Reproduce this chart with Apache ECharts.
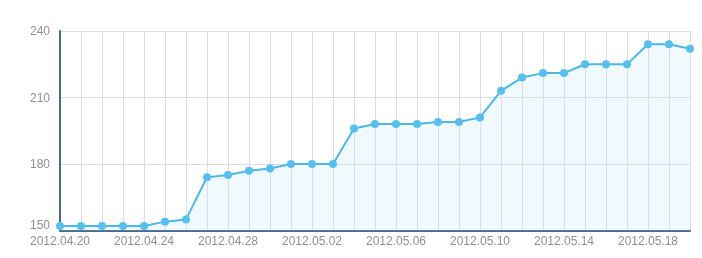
<!DOCTYPE html>
<html><head><meta charset="utf-8">
<script src="https://cdn.jsdelivr.net/npm/echarts@6/dist/echarts.min.js"></script>
<style>html,body{margin:0;padding:0;background:#fff}#c{width:702px;height:258px}</style>
</head><body><div id="c"></div>
<script>
var categories = ['2012.04.20','2012.04.21','2012.04.22','2012.04.23','2012.04.24','2012.04.25','2012.04.26','2012.04.27','2012.04.28','2012.04.29','2012.04.30','2012.05.01','2012.05.02','2012.05.03','2012.05.04','2012.05.05','2012.05.06','2012.05.07','2012.05.08','2012.05.09','2012.05.10','2012.05.11','2012.05.12','2012.05.13','2012.05.14','2012.05.15','2012.05.16','2012.05.17','2012.05.18','2012.05.19','2012.05.20'];
var values = [152,152,152,152,152,154,155,174,175,177,178,180,180,180,196,198,198,198,199,199,201,213,219,221,221,225,225,225,234,234,232];
var yTicks = [150,180,210,240];

var chart = echarts.init(document.getElementById('c'));
chart.setOption({
  animation:false,
  grid:{left:60,right:12,top:31,bottom:27.5},
  xAxis:{
    type:'category', data:categories, boundaryGap:false,
    axisLine:{lineStyle:{color:'#4a6992',width:2}},
    axisTick:{show:false},
    axisLabel:{interval:3,color:'#8f8f8f',fontFamily:'Liberation Sans, Arial',fontSize:12,margin:5},
    splitLine:{show:true,interval:0,lineStyle:{color:'#dcdcdc',width:1}}
  },
  yAxis:{
    type:'value', min:yTicks[0], max:yTicks[yTicks.length-1], interval:30,
    axisLine:{show:true,lineStyle:{color:'#4a6992',width:2}},
    axisTick:{show:false},
    axisLabel:{color:'#8f8f8f',fontFamily:'Liberation Sans, Arial',fontSize:12,margin:10,
      formatter:function(v){return v===yTicks[0]?'{b|'+v+'}':'{a|'+v+'}';},
      rich:{a:{color:'#8f8f8f',fontSize:12,fontFamily:'Liberation Sans, Arial',padding:[2,0,0,0]},
            b:{color:'#8f8f8f',fontSize:12,fontFamily:'Liberation Sans, Arial',padding:[0,0,10,0]}}},
    splitLine:{show:true,lineStyle:{color:'#dcdcdc',width:1}}
  },
  series:[{
    type:'line', data:values,
    symbol:'circle', symbolSize:8,
    itemStyle:{color:'#55c0ee'},
    lineStyle:{color:'#4cb8e8',width:2},
    areaStyle:{color:'rgba(200,232,250,0.4)'}
  }]
});
</script></body></html>
